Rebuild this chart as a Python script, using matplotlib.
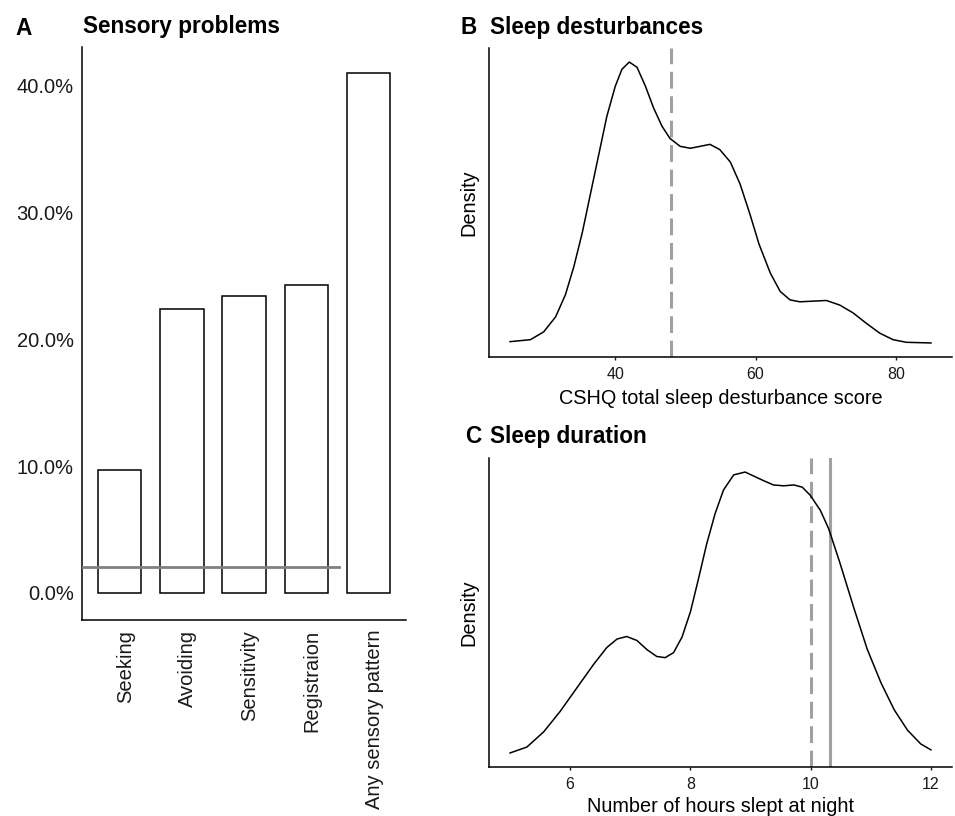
import matplotlib
matplotlib.use("Agg")
import matplotlib.pyplot as plt
import matplotlib.transforms as mtransforms

plt.rcParams['font.family'] = ['Liberation Sans', 'DejaVu Sans']

# Panel A: share of children with each sensory problem (%)
sensory_labels = ["Seeking", "Avoiding", "Sensitivity", "Registraion", "Any sensory pattern"]
sensory_pct = [9.7, 22.4, 23.4, 24.3, 41.0]
reference_pct = 2.05

# Panel B: density of CSHQ total sleep disturbance score
cshq_x = [25.0, 27.9, 29.8, 31.5, 32.9, 34.1, 35.3, 36.4, 37.6, 38.8, 40.0, 40.95,
          42.0, 43.1, 44.3, 45.45, 46.65, 47.8, 49.25, 50.7, 52.1, 53.5, 54.9, 56.4,
          57.8, 59.2, 60.5, 62.1, 63.5, 64.9, 66.3, 68.2, 70.1, 72.0, 73.9, 75.8,
          77.7, 79.6, 81.5, 85.0]
cshq_density = [0.0002, 0.0005, 0.0017, 0.0040, 0.0074, 0.0117, 0.0169, 0.0225,
                0.0286, 0.0347, 0.0393, 0.0419, 0.0430, 0.0422, 0.0393, 0.0360,
                0.0332, 0.0313, 0.0301, 0.0298, 0.0301, 0.0304, 0.0296, 0.0277,
                0.0243, 0.0197, 0.0151, 0.0107, 0.0079, 0.0066, 0.0063, 0.0064,
                0.0065, 0.0058, 0.0046, 0.0030, 0.0015, 0.0005, 0.0001, 0.0000]
cshq_cutoff = 48

# Panel C: density of hours slept at night
hours_x = [5.00, 5.28, 5.56, 5.83, 6.11, 6.39, 6.61, 6.78, 6.94, 7.11, 7.28, 7.44,
           7.58, 7.72, 7.86, 8.00, 8.13, 8.27, 8.41, 8.55, 8.72, 8.91, 9.13, 9.22,
           9.38, 9.55, 9.72, 9.86, 9.99, 10.16, 10.30, 10.48, 10.72, 10.94, 11.17,
           11.39, 11.61, 11.83, 12.00]
hours_density = [0.0000, 0.0061, 0.0218, 0.0426, 0.0670, 0.0914, 0.1088, 0.1175,
                 0.1201, 0.1160, 0.1064, 0.0995, 0.0983, 0.1035, 0.1195, 0.1456,
                 0.1786, 0.2155, 0.2468, 0.2712, 0.2868, 0.2897, 0.2833, 0.2807,
                 0.2764, 0.2755, 0.2764, 0.2741, 0.2659, 0.2503, 0.2311, 0.1972,
                 0.1491, 0.1070, 0.0722, 0.0444, 0.0235, 0.0093, 0.0032]
hours_cutoff = 10.0
hours_median = 10.32

W, H = 955, 816
fig = plt.figure(figsize=(W / 100, H / 100), dpi=100)


def px_axes(left, top, right, bottom):
    return fig.add_axes([left / W, 1 - bottom / H, (right - left) / W, (bottom - top) / H])


def style(ax):
    for s in ["top", "right"]:
        ax.spines[s].set_visible(False)
    for s in ["left", "bottom"]:
        ax.spines[s].set_linewidth(1.1)
        ax.spines[s].set_color("black")


# ---- A ----
axA = px_axes(82, 47, 406, 620)
style(axA)
pos = list(range(1, len(sensory_labels) + 1))
axA.bar(pos, sensory_pct, width=0.7, facecolor="white", edgecolor="black", linewidth=1.1, zorder=2)
axA.plot([0.4, 4.53], [reference_pct, reference_pct], color="#808080", lw=2.0, zorder=3)
axA.set_xlim(0.4, 5.6)
top = max(sensory_pct)
axA.set_ylim(-0.052 * top, top * 1.05)
axA.set_yticks([0, 10, 20, 30, 40])
axA.set_yticklabels([f"{v:.1f}%" for v in [0, 10, 20, 30, 40]])
axA.set_xticks(pos)
axA.set_xticklabels(sensory_labels, rotation=90, ha="center", va="top")
axA.tick_params(axis="both", length=0, labelsize=14.5, colors="#1a1a1a")
axA.tick_params(axis="y", pad=6)
axA.tick_params(axis="x", pad=7)
shift = mtransforms.ScaledTranslation(6 / 100, 0, fig.dpi_scale_trans)
for lab in axA.get_xticklabels():
    lab.set_transform(lab.get_transform() + shift)


def density_panel(ax, x, d, xlabel, ticks, lpad):
    style(ax)
    ax.plot(x, d, color="black", lw=1.1, zorder=3, solid_joinstyle="round")
    span = max(x) - min(x)
    ax.set_xlim(min(x) - 0.05 * span, max(x) + 0.05 * span)
    dspan = max(d) - min(d)
    ax.set_ylim(min(d) - 0.05 * dspan, max(d) + 0.05 * dspan)
    ax.set_yticks([])
    ax.set_xticks(ticks)
    ax.tick_params(axis="x", length=2.5, width=1.0, pad=5, labelsize=11.5, colors="#1a1a1a")
    ax.set_xlabel(xlabel, fontsize=14.3, labelpad=lpad)
    ax.set_ylabel("Density", fontsize=14.3, labelpad=8)


# ---- B ----
axB = px_axes(489, 48, 952, 357)
density_panel(axB, cshq_x, cshq_density, "CSHQ total sleep desturbance score", [40, 60, 80], 5)
axB.axvline(cshq_cutoff, color="#a0a0a0", lw=2.2, ls=(0, (5.5, 2.5)), zorder=2)

# ---- C ----
axC = px_axes(489, 458, 952, 767)
density_panel(axC, hours_x, hours_density, "Number of hours slept at night", [6, 8, 10, 12], 3)
axC.axvline(hours_cutoff, color="#a0a0a0", lw=2.2, ls=(0, (5.5, 2.5)), zorder=2)
axC.axvline(hours_median, color="#a0a0a0", lw=2.2, zorder=2)

# panel letters and titles
def title(xp, yp, s):
    fig.text(xp / W, 1 - yp / H, s, fontsize=16.3, fontweight="bold", va="baseline", ha="left")

title(15, 35, "A")
title(83, 33, "Sensory problems")
title(460, 34, "B")
title(490, 34, "Sleep desturbances")
title(465, 443, "C")
title(490, 443, "Sleep duration")

fig.savefig("out.png", dpi=100)
